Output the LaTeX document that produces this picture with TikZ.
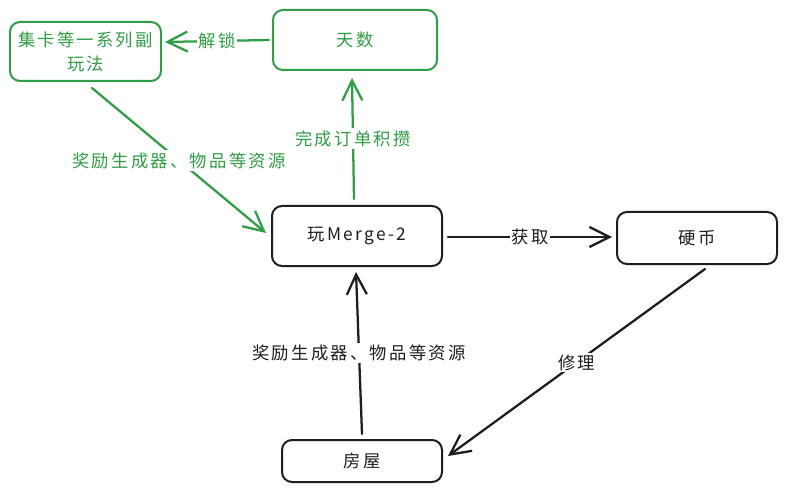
\documentclass[tikz,border=0pt]{standalone}
\usepackage{fontspec}
\setmainfont{Noto Sans CJK SC}[LetterSpace=13]
\usetikzlibrary{arrows.meta,calc}
\definecolor{exgreen}{HTML}{2F9E44}
\definecolor{exblack}{HTML}{1E1E1E}
\tikzset{
  box/.style={draw, rectangle, rounded corners=7.5pt, line width=1.5pt, align=center, font=\fontsize{13pt}{18pt}\selectfont, inner sep=0pt},
  gbox/.style={box, draw=exgreen, text=exgreen},
  kbox/.style={box, draw=exblack, text=exblack},
  conn/.style={line width=1.7pt, line cap=round, -{Straight Barb[length=15pt,width=15pt,line width=1.7pt]}},
  gconn/.style={conn, draw=exgreen},
  kconn/.style={conn, draw=exblack},
  lab/.style={midway, fill=white, inner sep=1.5pt, font=\fontsize{13pt}{15pt}\selectfont},
}
\begin{document}
\begin{tikzpicture}[x=0.75pt,y=-0.75pt]
\useasboundingbox[fill=white] (0,0) rectangle (787,491);
\node[gbox, minimum width=151*0.75pt, minimum height=59*0.75pt] (jk) at (85.5,51.5) {集卡等一系列副\\玩法};
\node[gbox, minimum width=164*0.75pt, minimum height=60*0.75pt] (ts) at (355,40) {天数};
\node[kbox, minimum width=170*0.75pt, minimum height=60*0.75pt] (mg) at (357,236) {玩Merge-2};
\node[kbox, minimum width=160*0.75pt, minimum height=52*0.75pt] (yb) at (697,238) {硬币};
\node[kbox, minimum width=160*0.75pt, minimum height=42*0.75pt] (fw) at (362,461) {房屋};

\draw[gconn] ($(ts.west)+(-3,0)$) -- node[lab, text=exgreen] {解锁} ($(jk.east)+(3,-9.5)$);
\draw[gconn] ($(jk.south)+(6.5,6)$) -- node[lab, text=exgreen] {奖励生成器、物品等资源} ($(mg.west)+(-5,-3)$);
\draw[gconn] ($(mg.north)+(-3,-6)$) -- node[lab, text=exgreen] {完成订单积攒} ($(ts.south)+(-3,7)$);
\draw[kconn] ($(mg.east)+(5,1)$) -- node[lab, text=exblack] {获取} ($(yb.west)+(-4,-1)$);
\draw[kconn] ($(yb.south)+(8,4)$) -- node[lab, text=exblack] {修理} ($(fw.east)+(5,-5)$);
\draw[kconn] ($(fw.north)+(0,-5)$) -- node[lab, text=exblack] {奖励生成器、物品等资源} ($(mg.south)+(-1,5)$);
\end{tikzpicture}
\end{document}
